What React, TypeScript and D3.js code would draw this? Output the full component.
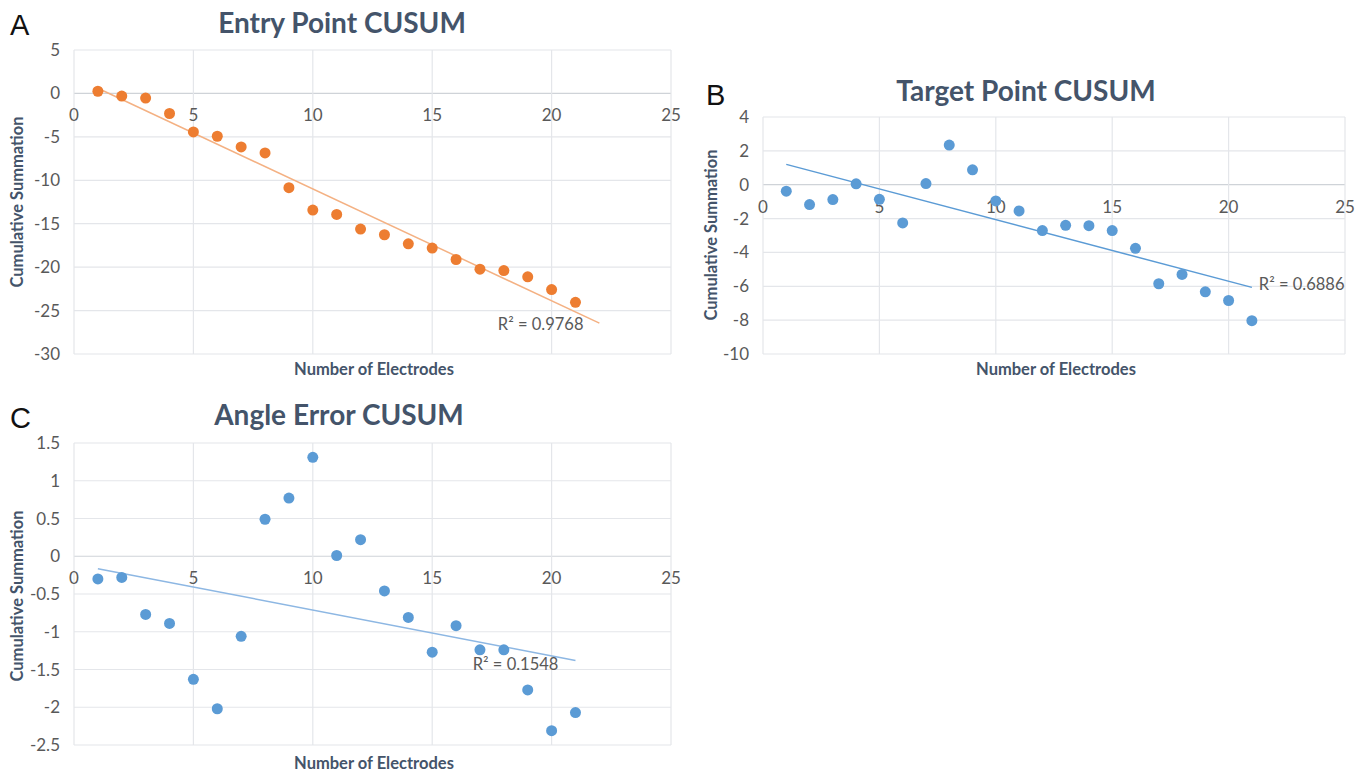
import React from "react";
import * as d3 from "d3";

// ---------- data ----------
const electrodes = [1, 2, 3, 4, 5, 6, 7, 8, 9, 10, 11, 12, 13, 14, 15, 16, 17, 18, 19, 20, 21];

const entryCusum = [0.25, -0.31, -0.54, -2.31, -4.43, -4.93, -6.16, -6.85, -10.85, -13.43, -13.93, -15.62, -16.27, -17.31, -17.81, -19.12, -20.24, -20.39, -21.12, -22.58, -24.05];
const targetCusum = [-0.38, -1.17, -0.88, 0.05, -0.86, -2.26, 0.07, 2.34, 0.88, -0.96, -1.55, -2.71, -2.4, -2.42, -2.71, -3.76, -5.85, -5.3, -6.33, -6.84, -8.03];
const angleCusum = [-0.3, -0.28, -0.77, -0.89, -1.63, -2.02, -1.06, 0.49, 0.77, 1.31, 0.01, 0.22, -0.46, -0.81, -1.27, -0.92, -1.24, -1.24, -1.77, -2.31, -2.07];

const xTicks = [0, 5, 10, 15, 20, 25];
const entryYTicks = [5, 0, -5, -10, -15, -20, -25, -30];
const targetYTicks = [4, 2, 0, -2, -4, -6, -8, -10];
const angleYTicks = [1.5, 1, 0.5, 0, -0.5, -1, -1.5, -2, -2.5];

const titles = ["Entry Point CUSUM", "Target Point CUSUM", "Angle Error CUSUM"];
const letters = ["A", "B", "C"];
const r2Labels = ["R² = 0.9768", "R² = 0.6886", "R² = 0.1548"];
const xTitle = "Number of Electrodes";
const yTitle = "Cumulative Summation";

// ---------- layout ----------
type Panel = {
  values: number[];
  yTicks: number[];
  title: string;
  letter: string;
  r2: string;
  left: number;
  right: number;
  top: number;
  bottom: number;
  trendTo: number;
  r2At: [number, number];
  dot: string;
  line: string;
  titleX: number;
  titleY: number;
  letterX: number;
  letterY: number;
  yTitleX: number;
  yTitleY: number;
  xTitleX: number;
  xTitleY: number;
};

const panels: Panel[] = [
  {
    values: entryCusum, yTicks: entryYTicks, title: titles[0], letter: letters[0], r2: r2Labels[0],
    left: 74, right: 671, top: 50, bottom: 354, trendTo: 22, r2At: [17.75, -27.24],
    dot: "#ed7d31", line: "#f4b183",
    titleX: 342, titleY: 33, letterX: 10, letterY: 35, yTitleX: 23, yTitleY: 202, xTitleX: 374, xTitleY: 375,
  },
  {
    values: targetCusum, yTicks: targetYTicks, title: titles[1], letter: letters[1], r2: r2Labels[1],
    left: 763, right: 1345, top: 117, bottom: 354, trendTo: 21, r2At: [21.3, -6.22],
    dot: "#5b9bd5", line: "#5b9bd5",
    titleX: 1026, titleY: 101, letterX: 706, letterY: 105, yTitleX: 717, yTitleY: 235, xTitleX: 1056, xTitleY: 375,
  },
  {
    values: angleCusum, yTicks: angleYTicks, title: titles[2], letter: letters[2], r2: r2Labels[2],
    left: 74, right: 671, top: 443, bottom: 745, trendTo: 21, r2At: [16.7, -1.51],
    dot: "#5b9bd5", line: "#8db7e3",
    titleX: 339, titleY: 425, letterX: 10, letterY: 428, yTitleX: 23, yTitleY: 596, xTitleX: 374, xTitleY: 769,
  },
];

const FONT = "Lato, 'Open Sans', sans-serif";

function regression(xs: number[], ys: number[]) {
  const mx = d3.mean(xs)!;
  const my = d3.mean(ys)!;
  let num = 0;
  let den = 0;
  xs.forEach((x, i) => {
    num += (x - mx) * (ys[i] - my);
    den += (x - mx) * (x - mx);
  });
  const slope = num / den;
  return { slope, intercept: my - slope * mx };
}

function ChartPanel({ p }: { p: Panel }) {
  const yMax = d3.max(p.yTicks)!;
  const yMin = d3.min(p.yTicks)!;
  const x = d3.scaleLinear().domain([0, 25]).range([p.left, p.right]);
  const y = d3.scaleLinear().domain([yMin, yMax]).range([p.bottom, p.top]);
  const reg = regression(electrodes, p.values);
  const trend = d3.line<number>().x((d) => x(d)).y((d) => y(reg.intercept + reg.slope * d));
  const y0 = y(0);
  return (
    <g>
      {p.yTicks.map((t) => (
        <line key={"hy" + t} x1={p.left} x2={p.right} y1={y(t)} y2={y(t)} stroke={t === 0 ? "#cfd3d8" : "#e4e6ea"} strokeWidth={1.2} />
      ))}
      {xTicks.map((t) => (
        <line key={"vx" + t} x1={x(t)} x2={x(t)} y1={p.top} y2={p.bottom} stroke="#e4e6ea" strokeWidth={1.2} />
      ))}
      {p.yTicks.map((t) => (
        <text key={"ly" + t} x={p.left - 14} y={y(t) + 6} textAnchor="end" fontSize={17} fill="#595959" fontFamily={FONT}>
          {t}
        </text>
      ))}
      {xTicks.map((t) => (
        <text key={"lx" + t} x={x(t)} y={y0 + 28} textAnchor="middle" fontSize={17} fill="#595959" fontFamily={FONT}>
          {t}
        </text>
      ))}
      <path d={trend([1, p.trendTo]) || ""} stroke={p.line} strokeWidth={1.5} fill="none" />
      {electrodes.map((e, i) => (
        <circle key={"pt" + e} cx={x(e)} cy={y(p.values[i])} r={5.5} fill={p.dot} />
      ))}
      <text x={x(p.r2At[0])} y={y(p.r2At[1])} fontSize={16.5} fill="#595959" fontFamily={FONT}>
        {p.r2}
      </text>
      <text x={p.titleX} y={p.titleY} textAnchor="middle" fontSize={28} fontWeight="bold" fill="#44546a" fontFamily={FONT}>
        {p.title}
      </text>
      <text x={p.letterX} y={p.letterY} fontSize={29} fill="#111" fontFamily="'Liberation Sans', Arial, sans-serif">
        {p.letter}
      </text>
      <text
        transform={`translate(${p.yTitleX},${p.yTitleY}) rotate(-90)`}
        textAnchor="middle"
        fontSize={16.5}
        fontWeight="bold"
        fill="#44546a"
        fontFamily={FONT}
      >
        {yTitle}
      </text>
      <text x={p.xTitleX} y={p.xTitleY} textAnchor="middle" fontSize={16.5} fontWeight="bold" fill="#44546a" fontFamily={FONT}>
        {xTitle}
      </text>
    </g>
  );
}

export default function App() {
  return (
    <svg
      width={1358}
      height={772}
      viewBox="0 0 1358 772"
      style={{ position: "absolute", left: 0, top: 0, background: "#ffffff" }}
    >
      <rect x={0} y={0} width={1358} height={772} fill="#ffffff" />
      {panels.map((p) => (
        <ChartPanel key={p.letter} p={p} />
      ))}
    </svg>
  );
}
